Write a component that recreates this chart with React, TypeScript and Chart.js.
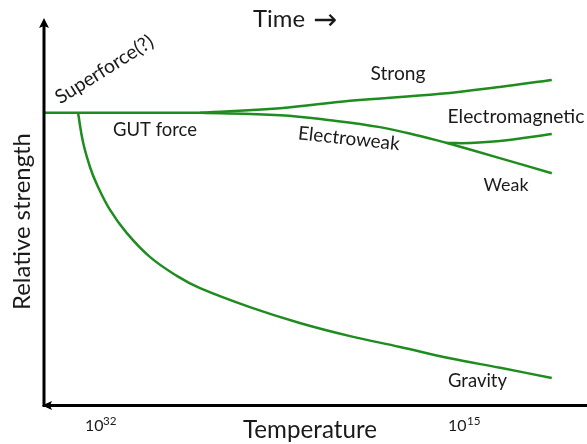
import React, { useEffect, useRef } from 'react';
import { Chart, registerables } from 'chart.js';

Chart.register(...registerables);

// ---- Data (x: progression along the time/temperature axis 0-100, y: relative strength 0-100) ----
const superforceX = [0, 28.6];
const superforceY = [75.5, 75.5];

const strongX = [28.6, 43.4, 56.3, 72.9, 83.9, 93.5];
const strongY = [75.5, 76.7, 78.6, 80.4, 82.2, 84.0];

const electroweakX = [28.6, 43.4, 52.6, 61.8, 69.2, 74.2];
const electroweakY = [75.5, 74.9, 73.6, 71.8, 69.5, 67.7];

const weakX = [74.2, 83.9, 93.5];
const weakY = [67.7, 63.8, 59.9];

const electromagneticX = [74.2, 78.4, 83.9, 93.5];
const electromagneticY = [67.7, 67.7, 68.2, 70.0];

const gravityX = [6.1, 7.0, 8.3, 9.6, 12.0, 15.1, 19.4, 24.4, 28.6, 37.8, 47.0, 56.3, 65.5, 74.7, 84.0, 93.5];
const gravityY = [75.5, 68.0, 61.5, 56.9, 50.4, 44.4, 38.2, 33.3, 30.2, 25.3, 21.2, 17.8, 15.0, 12.1, 9.6, 7.0];

const curveLabels = ['Superforce(?)', 'GUT force', 'Strong', 'Electroweak', 'Electromagnetic', 'Weak', 'Gravity'];
const axisTitles = ['Time', '→', 'Temperature', 'Relative strength'];
const tickBases = ['10', '10'];
const tickExponents = ['32', '15'];

// ---- Styles / layout ----
const GREEN = '#1f8c1f';
const TEXT = '#1a1a1a';
const FAMILY = 'Lato, "Open Sans", sans-serif';
const CAP_HALF = 0.358;

// label layout: [centerX, capCenterY, width, angleDeg]
const curveLabelLayout: [number, number, number, number][] = [
  [104, 69, 112, -32],
  [155, 129, 84, 0],
  [398, 73, 55, 0],
  [349, 138, 102, 6.2],
  [516, 116.5, 137, 0],
  [506, 185, 45, 0],
  [477.5, 380.5, 59, 0],
];

function toPoints(xs: number[], ys: number[]) {
  return xs.map((x, i) => ({ x, y: ys[i] }));
}

function drawText(
  ctx: CanvasRenderingContext2D,
  text: string,
  x: number,
  y: number,
  width: number,
  angleDeg: number,
  align: CanvasTextAlign = 'center',
  family: string = FAMILY
) {
  ctx.save();
  ctx.translate(x, y);
  ctx.rotate((angleDeg * Math.PI) / 180);
  ctx.font = `100px ${family}`;
  const w = ctx.measureText(text).width;
  const size = (100 * width) / w;
  ctx.font = `${size}px ${family}`;
  ctx.textAlign = align;
  ctx.textBaseline = 'alphabetic';
  ctx.fillStyle = TEXT;
  ctx.fillText(text, 0, CAP_HALF * size);
  ctx.restore();
}

const decorPlugin = {
  id: 'decor',
  afterDraw(chart: any) {
    const ctx: CanvasRenderingContext2D = chart.ctx;
    const area = chart.chartArea;
    const ax = area.left - 1;
    const ay = area.bottom + 0.5;
    const W = chart.width;

    ctx.save();
    ctx.strokeStyle = '#000';
    ctx.fillStyle = '#000';
    ctx.lineWidth = 3;
    ctx.lineCap = 'butt';
    // vertical axis
    ctx.beginPath();
    ctx.moveTo(ax, ay + 1.5);
    ctx.lineTo(ax, area.top + 6);
    ctx.stroke();
    // arrowhead top
    ctx.beginPath();
    ctx.moveTo(ax, area.top);
    ctx.lineTo(ax + 5, area.top + 10);
    ctx.lineTo(ax, area.top + 8);
    ctx.lineTo(ax - 5, area.top + 10);
    ctx.closePath();
    ctx.fill();
    // horizontal axis
    ctx.beginPath();
    ctx.moveTo(ax + 4, ay);
    ctx.lineTo(W, ay);
    ctx.stroke();
    // arrowhead left
    ctx.beginPath();
    ctx.moveTo(ax - 2, ay);
    ctx.lineTo(ax + 8, ay - 4.5);
    ctx.lineTo(ax + 6, ay);
    ctx.lineTo(ax + 8, ay + 4.5);
    ctx.closePath();
    ctx.fill();
    ctx.restore();

    // curve labels
    curveLabels.forEach((t, i) => {
      const [x, y, w, a] = curveLabelLayout[i];
      drawText(ctx, t, x, y, w, a);
    });

    // axis titles
    drawText(ctx, axisTitles[0], 279, 18.5, 52, 0);
    drawText(ctx, axisTitles[1], 325, 18.5, 24, 0, 'center', '"DejaVu Sans", sans-serif');
    drawText(ctx, axisTitles[2], 310, 429, 134, 0);
    drawText(ctx, axisTitles[3], 21, 221.5, 177, -90);

    // tick labels with superscripts
    const tickPos: [number, number][] = [
      [85, 103],
      [448, 467],
    ];
    tickBases.forEach((b, i) => {
      const [bx, ex] = tickPos[i];
      drawText(ctx, b, bx, 425.5, 18.5, 0, 'left');
      drawText(ctx, tickExponents[i], ex, 420.5, 13.5, 0, 'left');
    });
  },
};

export default function App() {
  const ref = useRef<HTMLCanvasElement | null>(null);

  useEffect(() => {
    document.body.style.margin = '0';
    const canvas = ref.current;
    if (!canvas) return;
    const mk = (label: string, xs: number[], ys: number[]) => ({
      label,
      data: toPoints(xs, ys),
      borderColor: GREEN,
      backgroundColor: GREEN,
      borderWidth: 2.5,
      pointRadius: 0,
      fill: false,
      tension: 0.4,
    });
    const chart = new Chart(canvas, {
      type: 'line',
      data: {
        datasets: [
          mk('Superforce', superforceX, superforceY),
          mk('Strong', strongX, strongY),
          mk('Electroweak', electroweakX, electroweakY),
          mk('Weak', weakX, weakY),
          mk('Electromagnetic', electromagneticX, electromagneticY),
          mk('Gravity', gravityX, gravityY),
        ],
      },
      options: {
        responsive: false,
        animation: false,
        layout: { padding: { left: 45, right: 0, top: 18, bottom: 39 } },
        scales: {
          x: { type: 'linear', min: 0, max: 100, display: false },
          y: { type: 'linear', min: 0, max: 100, display: false },
        },
        plugins: {
          legend: { display: false },
          tooltip: { enabled: false },
        },
      },
      plugins: [decorPlugin],
    });
    return () => chart.destroy();
  }, []);

  return (
    <div style={{ width: 587, height: 444, background: '#fff' }}>
      <canvas ref={ref} width={587} height={444} style={{ display: 'block' }} />
    </div>
  );
}
